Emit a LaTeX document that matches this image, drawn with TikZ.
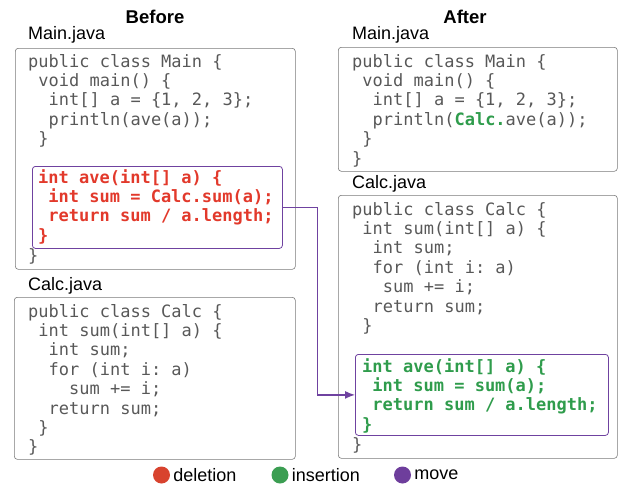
\documentclass[tikz,border=0pt]{standalone}
\usepackage{fontspec}
\setmainfont{Liberation Sans}
\setmonofont{DejaVu Sans Mono}
\usetikzlibrary{positioning,arrows.meta}
\definecolor{codegray}{HTML}{585858}
\definecolor{boxgray}{HTML}{7A7A7A}
\definecolor{delred}{HTML}{E2392B}
\definecolor{insgreen}{HTML}{2F9C4C}
\definecolor{movepurple}{HTML}{6F42A0}
\definecolor{deldot}{HTML}{D8432E}
\definecolor{insdot}{HTML}{3B9E52}
\definecolor{movedot}{HTML}{6E3E9C}
\newcommand{\ci}[1]{\hspace*{\dimexpr#1\fontcharwd\font`0\relax}}
\newcommand{\codefont}{\fontsize{17}{19.4}\selectfont\ttfamily}

\tikzset{
  filebox/.style={draw=boxgray, line width=0.6pt, rounded corners=3pt, anchor=north west, inner sep=0pt},
  movebox/.style={draw=movepurple, line width=0.8pt, rounded corners=3pt, anchor=north west, inner sep=0pt},
  code/.style={font=\codefont, text=codegray, align=left, anchor=base west, inner sep=0pt},
  filelabel/.style={font=\fontsize{18}{20}\selectfont, anchor=base west, inner sep=0pt},
  heading/.style={font=\fontsize{18.5}{20}\selectfont\bfseries, anchor=base, inner sep=0pt},
  legdot/.style={circle, minimum size=17pt, inner sep=0pt},
  legtext/.style={font=\fontsize{18}{20}\selectfont, inner sep=0pt},
  moveline/.style={draw=movepurple, line width=1.3pt, -{Latex[length=10pt,width=8pt]}},
}

\begin{document}
\begin{tikzpicture}[x=1pt,y=-1pt]
\useasboundingbox (0,0) rectangle (619,485);
% Headings
\node[heading] (before) at (155,23) {Before};
\node[heading] (after) at (465,23) {After};

% Before: Main.java (code nodes are placed at the baseline of their last line)
\node[filelabel] (mainBlbl) at (28,39.5) {Main.java};
\node[filebox, minimum width=280pt, minimum height=221pt] (mainB) at (15,48) {};
\node[code] (mainBcode) at (28,144.6) {public class Main \{\\\ci{1}void main() \{\\\ci{2}int[] a = \{1, 2, 3\};\\\ci{2}println(ave(a));\\\ci{1}\}};
\node[movebox, minimum width=250pt, minimum height=82pt] (aveB) at (32,166) {};
\node[code, text=delred, font=\codefont\bfseries] (aveBcode) at (38,241.2) {int ave(int[] a) \{\\\ci{1}int sum = Calc.sum(a);\\\ci{1}return sum / a.length;\\\}};
\node[code] (mainBend) at (28,261) {\}};

% Before: Calc.java
\node[filelabel] (calcBlbl) at (28,290) {Calc.java};
\node[filebox, minimum width=281pt, minimum height=162pt] (calcB) at (14,297) {};
\node[code] (calcBcode) at (28,452.8) {public class Calc \{\\\ci{1}int sum(int[] a) \{\\\ci{2}int sum;\\\ci{2}for (int i: a)\\\ci{4}sum += i;\\\ci{2}return sum;\\\ci{1}\}\\\}};

% After: Main.java
\node[filelabel] (mainAlbl) at (352,39.5) {Main.java};
\node[filebox, minimum width=279pt, minimum height=124pt] (mainA) at (338,47) {};
\node[code] (mainAcode) at (352,164) {public class Main \{\\\ci{1}void main() \{\\\ci{2}int[] a = \{1, 2, 3\};\\\ci{2}println(\textcolor{insgreen}{\bfseries Calc.}ave(a));\\\ci{1}\}\\\}};

% After: Calc.java
\node[filelabel] (calcAlbl) at (352,188) {Calc.java};
\node[filebox, minimum width=279pt, minimum height=263pt] (calcA) at (338,195) {};
\node[code] (calcAcode) at (352,331.4) {public class Calc \{\\\ci{1}int sum(int[] a) \{\\\ci{2}int sum;\\\ci{2}for (int i: a)\\\ci{3}sum += i;\\\ci{2}return sum;\\\ci{1}\}};
\node[movebox, minimum width=253pt, minimum height=81pt] (aveA) at (355,354) {};
\node[code, text=insgreen, font=\codefont\bfseries] (aveAcode) at (362,430.2) {int ave(int[] a) \{\\\ci{1}int sum = sum(a);\\\ci{1}return sum / a.length;\\\}};
\node[code] (calcAend) at (352,450) {\}};

% Move
\draw[moveline] (aveB.east) -- ++(35,0) |- (aveA.west);

% Legend
\node[legdot, fill=deldot] (delDot) at (161.5,475) {};
\node[legtext, right=3pt of delDot] (delTxt) {deletion};
\node[legdot, fill=insdot] (insDot) at (280,475) {};
\node[legtext, right=3pt of insDot] (insTxt) {insertion};
\node[legdot, fill=movedot] (moveDot) at (402.5,475) {};
\node[legtext, right=3pt of moveDot] (moveTxt) {move};
\end{tikzpicture}
\end{document}
